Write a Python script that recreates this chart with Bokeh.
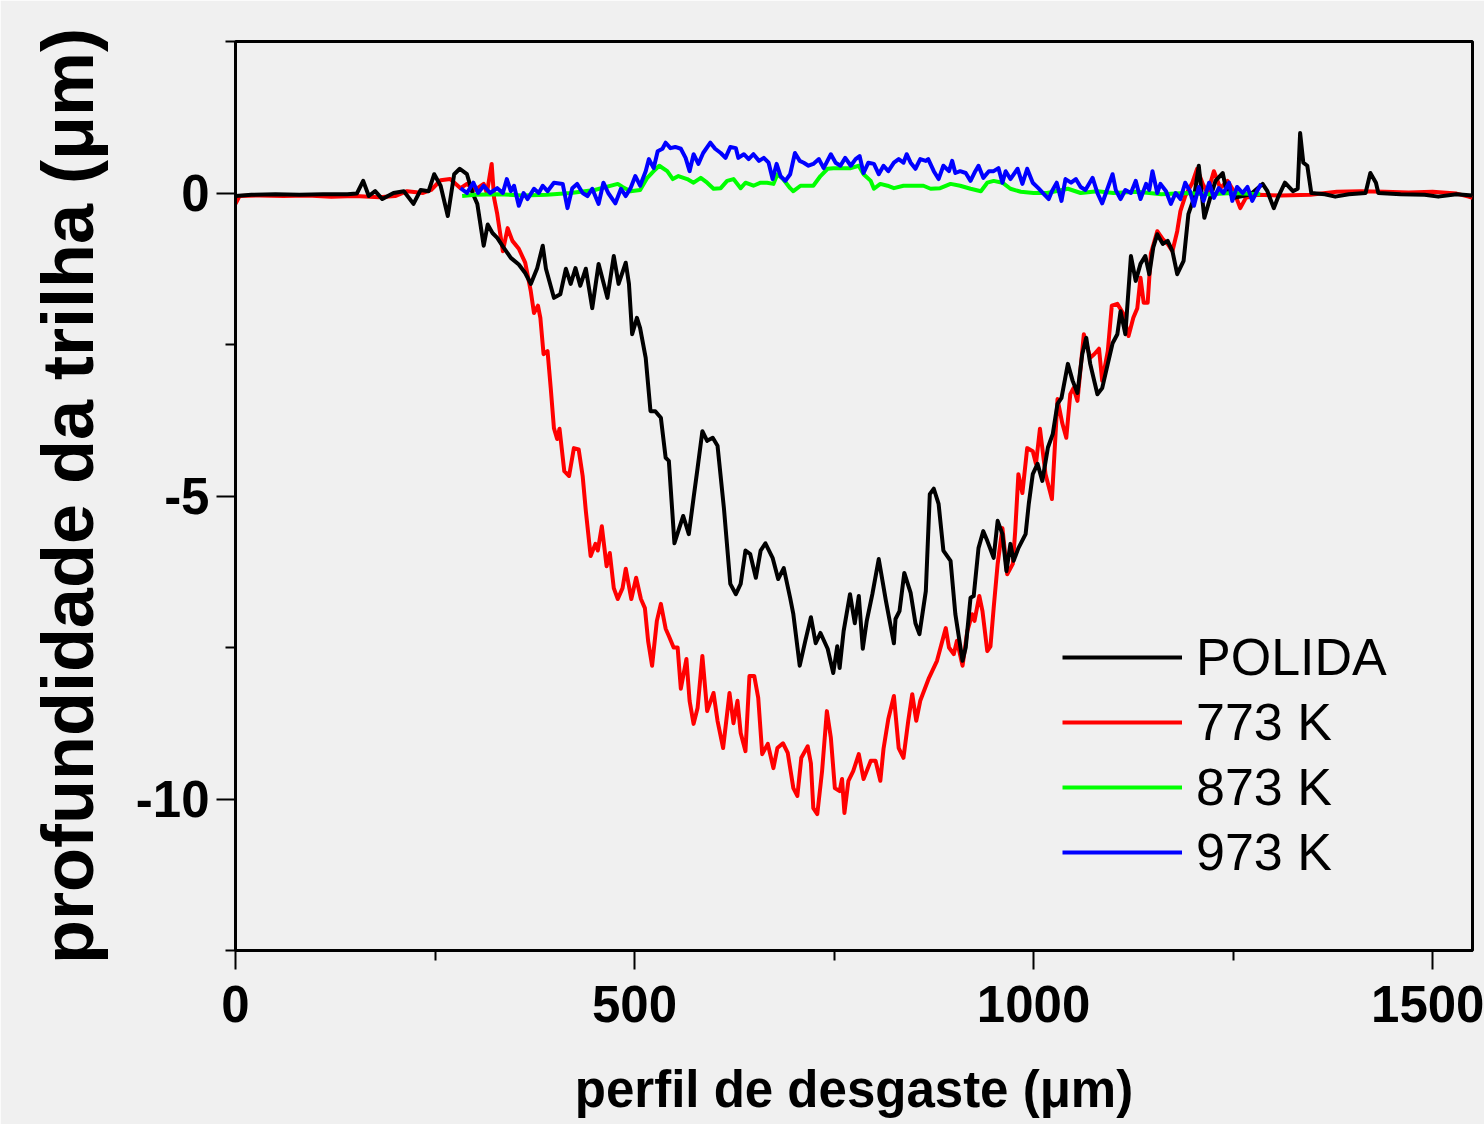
from bokeh.plotting import figure
from bokeh.models import Range1d, FixedTicker, Legend, LegendItem
from bokeh.embed import file_html
from bokeh.resources import INLINE

# ---- axis ticks ----
x_ticks = [0, 500, 1000, 1500]
x_minor = [250, 750, 1250]
y_ticks = [-10, -5, 0]
y_minor = [-12.5, -7.5, -2.5, 2.5]
y_tick_labels = {-10: "-10", -5: "-5", 0: "0"}

x_title = "perfil de desgaste (μm)"
y_title = "profundidade da trilha (μm)"

# ---- series: POLIDA ----
polida_x = [0, 20, 50, 80, 110, 140, 152, 160, 167, 175, 184, 198, 211, 223, 232, 242, 249, 257, 266, 274,
            281, 290, 297, 303, 311, 316, 322, 328, 336, 345, 355, 363, 370, 378, 385, 389, 399, 407, 414, 420,
            426, 432, 439, 447, 455, 466, 474, 480, 489, 493, 497, 503, 507, 514, 520, 526, 533, 539, 543, 550,
            556, 561, 568, 574, 579, 585, 591, 598, 604, 612, 620, 627, 633, 639, 645, 652, 658, 664, 673, 680,
            687, 695, 699, 707, 714, 721, 727, 733, 742, 749, 754, 757, 762, 770, 776, 781, 786, 791, 798, 806,
            815, 825, 827, 832, 838, 846, 852, 857, 865, 870, 875, 881, 887, 896, 902, 911, 915, 921, 925, 931,
            937, 942, 950, 955, 961, 966, 971, 975, 981, 990, 994, 999, 1005, 1011, 1018, 1024, 1030, 1035, 1043, 1049,
            1055, 1061, 1066, 1071, 1080, 1086, 1093, 1099, 1105, 1109, 1115, 1122, 1128, 1134, 1140, 1145, 1150, 1155, 1162, 1168,
            1174, 1180, 1188, 1194, 1201, 1207, 1214, 1222, 1228, 1237, 1241, 1251, 1262, 1272, 1287, 1293, 1301, 1307, 1315, 1325,
            1331, 1334, 1338, 1343, 1348, 1365, 1378, 1395, 1416, 1422, 1429, 1432, 1460, 1490, 1507, 1530, 1550]
polida_y = [-0.05, -0.03, -0.02, -0.03, -0.02, -0.02, -0.01, 0.2, -0.05, 0.03, -0.1, 0.0, 0.03, -0.18, 0.05, 0.03, 0.31, 0.12, -0.38, 0.31,
            0.4, 0.31, 0.0, -0.18, -0.87, -0.52, -0.66, -0.74, -0.9, -1.07, -1.18, -1.32, -1.5, -1.24, -0.87, -1.25, -1.73, -1.67, -1.25, -1.5,
            -1.24, -1.53, -1.25, -1.9, -1.17, -1.73, -1.04, -1.5, -1.15, -1.5, -2.33, -2.06, -2.23, -2.72, -3.6, -3.6, -3.71, -4.37, -4.42, -5.78,
            -5.53, -5.33, -5.63, -5.03, -4.54, -3.93, -4.09, -4.04, -4.17, -5.2, -6.45, -6.62, -6.45, -5.9, -5.96, -6.35, -5.9, -5.78, -6.02, -6.37,
            -6.19, -6.68, -6.95, -7.8, -7.39, -7.0, -7.43, -7.26, -7.52, -7.92, -7.48, -7.84, -7.23, -6.62, -7.1, -6.65, -7.52, -7.06, -6.62, -6.04,
            -6.73, -7.43, -7.03, -6.9, -6.27, -6.6, -7.1, -7.28, -6.57, -4.97, -4.88, -5.13, -5.9, -6.07, -6.95, -7.72, -7.5, -6.68, -6.65, -5.86,
            -5.58, -5.74, -6.02, -5.41, -5.63, -6.24, -5.79, -6.07, -5.86, -5.63, -5.13, -4.64, -4.47, -4.75, -4.2, -3.98, -3.48, -3.38, -2.82, -3.1,
            -3.3, -2.66, -2.39, -2.82, -3.32, -3.22, -2.82, -2.48, -2.33, -1.95, -2.33, -1.04, -1.45, -1.17, -1.04, -1.34, -0.9, -0.68, -0.84, -0.79,
            -0.96, -1.34, -1.12, -0.35, -0.08, 0.45, -0.41, -0.05, 0.2, 0.33, 0.08, -0.08, -0.05, -0.02, 0.15, 0.03, -0.25, -0.05, 0.17, 0.03,
            0.07, 0.99, 0.5, 0.45, 0.0, -0.02, -0.06, -0.02, 0.0, 0.33, 0.17, 0.0, -0.02, -0.03, -0.06, -0.02, -0.04]

# ---- series: 773 K ----
k773_x = [0, 5, 30, 60, 90, 120, 150, 180, 200, 215, 235, 245, 257, 269, 282, 290, 300, 311, 315, 321,
          324, 328, 335, 341, 347, 355, 363, 370, 374, 379, 382, 386, 391, 395, 399, 403, 406, 412, 418, 424,
          430, 435, 439, 445, 451, 454, 459, 465, 469, 474, 479, 485, 489, 496, 502, 508, 513, 517, 522, 528,
          533, 539, 543, 549, 554, 558, 565, 569, 574, 579, 585, 591, 599, 604, 611, 619, 624, 629, 633, 639,
          644, 650, 655, 660, 667, 674, 679, 686, 692, 699, 704, 709, 717, 721, 724, 729, 735, 741, 746, 751,
          757, 760, 763, 768, 774, 781, 787, 796, 802, 808, 812, 818, 825, 831, 837, 843, 848, 853, 858, 869,
          879, 890, 894, 900, 904, 911, 917, 923, 926, 932, 936, 942, 946, 950, 955, 961, 967, 974, 977, 981,
          986, 992, 999, 1003, 1008, 1015, 1023, 1030, 1036, 1041, 1046, 1050, 1055, 1063, 1071, 1076, 1082, 1086, 1093, 1098,
          1105, 1112, 1119, 1125, 1130, 1134, 1138, 1143, 1147, 1155, 1162, 1168, 1174, 1180, 1184, 1190, 1199, 1205, 1212, 1218,
          1226, 1234, 1243, 1251, 1259, 1266, 1280, 1310, 1347, 1380, 1410, 1440, 1470, 1500, 1530, 1545, 1550]
k773_y = [-0.18, -0.05, -0.04, -0.05, -0.04, -0.06, -0.05, -0.07, -0.05, 0.03, 0.0, 0.05, 0.21, 0.23, 0.08, 0.15, 0.05, 0.15, 0.0, 0.48,
          -0.08, -0.35, -0.96, -0.58, -0.79, -0.92, -1.15, -1.62, -1.98, -1.86, -2.06, -2.66, -2.61, -3.22, -3.88, -4.06, -3.89, -4.59, -4.67, -4.21,
          -4.23, -4.67, -5.25, -5.99, -5.79, -5.9, -5.5, -6.16, -5.94, -6.52, -6.7, -6.52, -6.2, -6.7, -6.35, -6.7, -6.85, -7.39, -7.8, -7.06,
          -6.78, -7.19, -7.31, -7.5, -7.5, -8.18, -7.69, -8.38, -8.76, -8.5, -7.64, -8.55, -8.25, -8.71, -9.16, -8.25, -8.75, -8.38, -8.91, -9.21,
          -7.97, -7.97, -8.33, -9.26, -9.09, -9.49, -9.16, -9.08, -9.24, -9.82, -9.95, -9.32, -9.13, -9.41, -10.15, -10.25, -9.54, -8.55, -8.99, -9.82,
          -9.87, -9.67, -10.23, -9.7, -9.54, -9.26, -9.67, -9.37, -9.37, -9.7, -9.17, -8.68, -8.3, -9.16, -9.32, -8.71, -8.27, -8.71, -8.38, -8.0,
          -7.72, -7.18, -7.5, -7.61, -7.39, -7.8, -7.23, -6.95, -7.06, -6.65, -6.9, -7.56, -7.48, -6.85, -6.12, -5.53, -6.29, -6.12, -5.58, -4.64,
          -4.95, -4.21, -4.26, -4.47, -3.89, -4.64, -5.05, -3.4, -3.8, -4.04, -3.32, -3.22, -3.43, -2.33, -2.72, -2.66, -2.57, -3.1, -2.61, -1.86,
          -1.83, -1.98, -2.36, -2.06, -1.9, -1.4, -1.81, -1.81, -1.0, -0.63, -0.76, -0.84, -0.96, -0.63, -0.3, -0.05, 0.17, 0.4, 0.15, 0.0,
          0.36, 0.08, 0.2, 0.03, -0.25, -0.08, -0.03, -0.04, -0.03, 0.02, 0.03, 0.02, 0.01, 0.02, -0.01, -0.06, -0.08]

# ---- series: 873 K ----
k873_x = [284, 300, 330, 360, 390, 420, 450, 479, 485, 495, 507, 516, 524, 531, 541, 548, 555, 566, 574, 583,
          591, 599, 608, 616, 624, 633, 639, 649, 658, 666, 674, 679, 686, 695, 699, 708, 717, 724, 733, 742,
          749, 762, 771, 781, 787, 796, 800, 808, 817, 825, 837, 850, 862, 871, 883, 896, 908, 921, 934, 942,
          950, 961, 971, 984, 1000, 1017, 1043, 1059, 1080, 1100, 1130, 1160, 1190, 1220, 1250, 1284]
k873_y = [-0.05, -0.03, -0.02, -0.04, -0.03, 0.0, 0.05, 0.15, 0.1, 0.03, 0.05, 0.25, 0.36, 0.45, 0.36, 0.23, 0.28, 0.23, 0.17, 0.25,
          0.17, 0.07, 0.08, 0.2, 0.23, 0.08, 0.17, 0.12, 0.17, 0.17, 0.15, 0.31, 0.23, 0.08, 0.03, 0.12, 0.12, 0.12, 0.28, 0.4,
          0.41, 0.41, 0.41, 0.45, 0.31, 0.2, 0.07, 0.15, 0.12, 0.08, 0.12, 0.12, 0.12, 0.07, 0.08, 0.15, 0.12, 0.07, 0.03, 0.17,
          0.2, 0.17, 0.07, 0.02, 0.0, 0.0, 0.07, 0.0, 0.03, 0.0, 0.02, -0.02, 0.0, -0.02, 0.0, -0.02]

# ---- series: 973 K ----
k973_x = [282, 290, 298, 304, 311, 319, 328, 335, 340, 345, 349, 355, 361, 366, 374, 380, 385, 391, 399, 410,
          416, 422, 428, 435, 441, 447, 455, 461, 467, 476, 483, 489, 495, 501, 507, 514, 518, 524, 529, 535,
          539, 545, 551, 558, 564, 569, 574, 580, 586, 595, 601, 608, 614, 620, 627, 630, 637, 643, 649, 656,
          662, 668, 673, 678, 683, 689, 695, 701, 707, 712, 718, 724, 731, 737, 746, 752, 758, 764, 771, 777,
          782, 787, 793, 800, 806, 812, 818, 825, 831, 837, 841, 846, 852, 858, 865, 868, 875, 881, 887, 894,
          898, 902, 908, 915, 921, 927, 931, 937, 944, 950, 956, 961, 965, 971, 980, 986, 992, 999, 1006, 1013,
          1019, 1023, 1029, 1035, 1040, 1047, 1053, 1059, 1065, 1074, 1080, 1086, 1092, 1099, 1103, 1109, 1115, 1122, 1128, 1134,
          1141, 1145, 1149, 1155, 1159, 1166, 1172, 1178, 1184, 1190, 1196, 1201, 1207, 1213, 1220, 1226, 1232, 1238, 1245, 1249,
          1255, 1262, 1268, 1274, 1280, 1285]
k973_y = [0.08, 0.0, 0.17, 0.0, 0.12, 0.0, 0.08, 0.0, 0.23, 0.03, 0.12, -0.21, 0.0, -0.1, 0.07, 0.0, 0.12, 0.03, 0.17, 0.15,
          -0.25, 0.08, 0.15, 0.0, -0.05, 0.07, -0.18, 0.17, 0.0, -0.17, 0.07, -0.05, 0.08, 0.28, 0.12, 0.36, 0.56, 0.41, 0.69, 0.73,
          0.83, 0.74, 0.76, 0.73, 0.58, 0.36, 0.64, 0.48, 0.66, 0.83, 0.73, 0.66, 0.58, 0.76, 0.74, 0.58, 0.64, 0.56, 0.64, 0.53,
          0.58, 0.5, 0.23, 0.48, 0.28, 0.2, 0.31, 0.66, 0.53, 0.5, 0.45, 0.48, 0.56, 0.41, 0.64, 0.5, 0.45, 0.58, 0.45, 0.56,
          0.61, 0.33, 0.5, 0.48, 0.31, 0.45, 0.36, 0.5, 0.56, 0.5, 0.64, 0.5, 0.4, 0.56, 0.53, 0.56, 0.36, 0.23, 0.45, 0.36,
          0.53, 0.33, 0.36, 0.33, 0.2, 0.36, 0.45, 0.25, 0.36, 0.36, 0.41, 0.17, 0.36, 0.23, 0.4, 0.15, 0.4, 0.17, 0.08, -0.02,
          -0.1, 0.03, 0.17, -0.13, 0.23, 0.17, 0.23, 0.1, 0.05, 0.25, 0.0, -0.17, 0.05, 0.31, 0.05, -0.1, 0.05, 0.0, 0.2, -0.1,
          0.15, 0.05, 0.36, 0.0, 0.15, 0.03, -0.18, 0.0, -0.1, 0.17, 0.03, -0.21, 0.1, -0.13, 0.17, -0.08, 0.08, 0.0, 0.17, -0.13,
          0.1, 0.0, 0.1, -0.13, 0.03, 0.15]

series_names = ["POLIDA", "773 K", "873 K", "973 K"]
series_colors = ["#000000", "#ff0000", "#00ff00", "#0000ff"]

BG = "#f0f0f0"
FONT = "Liberation Sans"
LW = 4

p = figure(width=1484, height=1124, output_backend="svg", toolbar_location=None,
           x_range=Range1d(0, 1550), y_range=Range1d(-12.5, 2.5),
           min_border_left=235, min_border_top=41, min_border_right=12, min_border_bottom=174)
p.background_fill_color = BG
p.border_fill_color = BG
p.grid.visible = False
p.outline_line_color = "black"
p.outline_line_width = 3

r773 = p.line(k773_x, k773_y, line_color=series_colors[1], line_width=LW, line_join="round")
rpol = p.line(polida_x, polida_y, line_color=series_colors[0], line_width=LW, line_join="round")
r873 = p.line(k873_x, k873_y, line_color=series_colors[2], line_width=LW, line_join="round")
r973 = p.line(k973_x, k973_y, line_color=series_colors[3], line_width=LW, line_join="round")

p.xaxis.ticker = FixedTicker(ticks=x_ticks, minor_ticks=x_minor)
p.yaxis.ticker = FixedTicker(ticks=y_ticks, minor_ticks=y_minor)
p.yaxis.major_label_overrides = y_tick_labels
p.xaxis.axis_label = x_title
p.yaxis.axis_label = y_title

for ax in (p.xaxis[0], p.yaxis[0]):
    ax.axis_line_width = 3
    ax.axis_line_color = "black"
    ax.major_tick_line_width = 2
    ax.minor_tick_line_width = 2
    ax.major_tick_in = 0
    ax.major_tick_out = 19
    ax.minor_tick_in = 0
    ax.minor_tick_out = 10
    ax.major_label_text_font = FONT
    ax.major_label_text_font_style = "bold"
    ax.major_label_text_font_size = "51px"
    ax.major_label_text_color = "black"
    ax.axis_label_text_font = FONT
    ax.axis_label_text_font_style = "bold"
    ax.axis_label_text_color = "black"

p.xaxis.major_label_standoff = 16
p.xaxis.axis_label_text_font_size = "51px"
p.xaxis.axis_label_standoff = 36
p.yaxis.major_label_standoff = 7
p.yaxis.axis_label_text_font_size = "72px"
p.yaxis.axis_label_standoff = 25

legend = Legend(items=[LegendItem(label=series_names[0], renderers=[rpol]),
                       LegendItem(label=series_names[1], renderers=[r773]),
                       LegendItem(label=series_names[2], renderers=[r873]),
                       LegendItem(label=series_names[3], renderers=[r973])],
                location=(827, 68))
legend.label_text_font = FONT
legend.label_text_font_size = "52px"
legend.label_text_color = "black"
legend.glyph_width = 120
legend.glyph_height = 40
legend.label_standoff = 14
legend.spacing = 5
legend.padding = 0
legend.margin = 0
legend.border_line_alpha = 0
legend.background_fill_alpha = 0
p.add_layout(legend)

open("out.html", "w").write(file_html(p, INLINE))
